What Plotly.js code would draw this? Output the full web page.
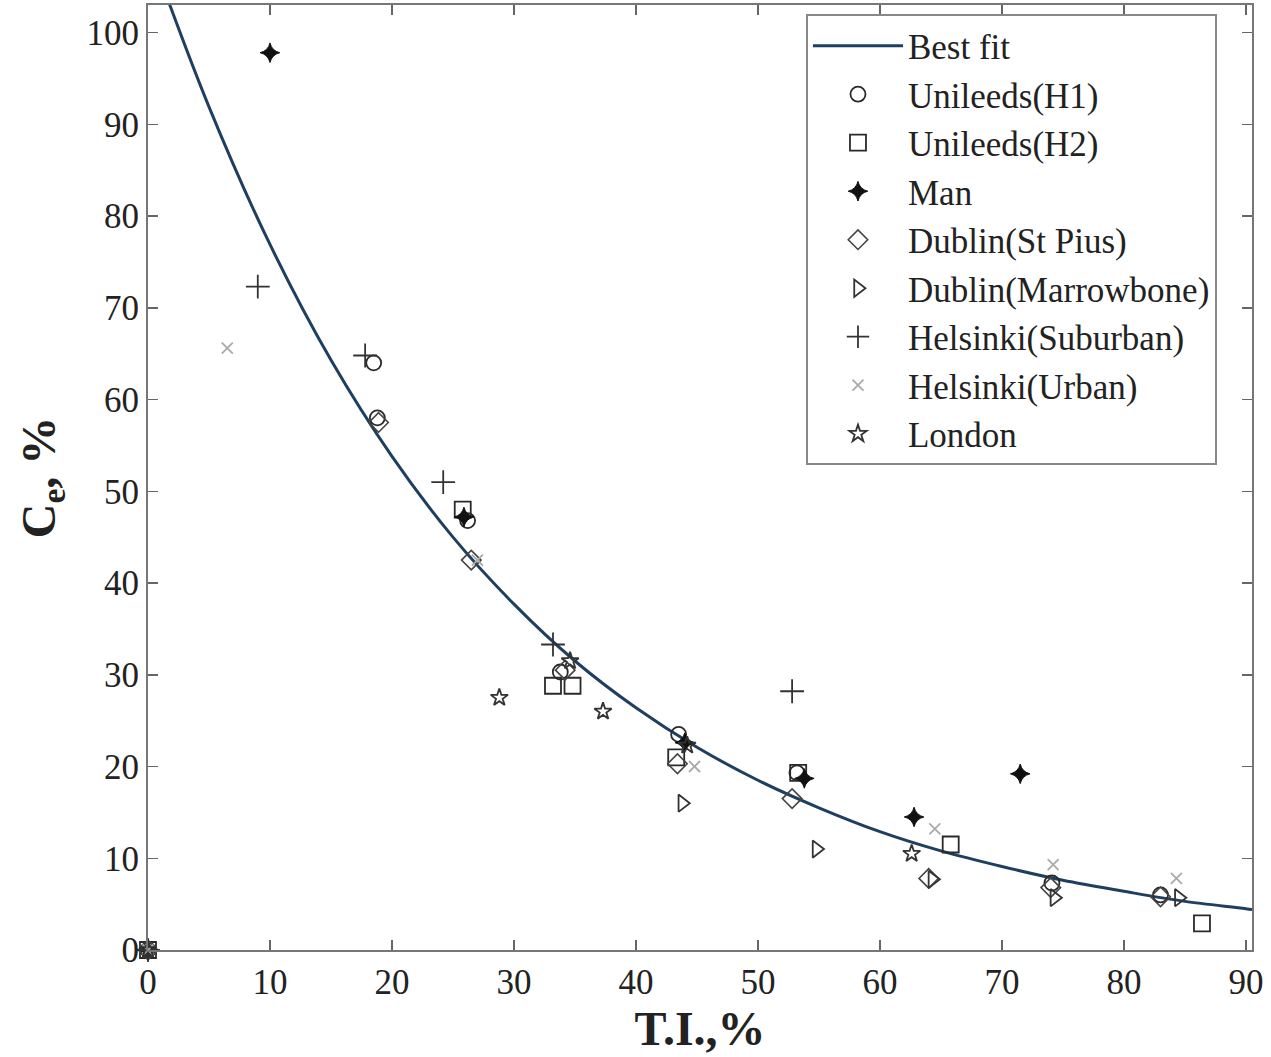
<!DOCTYPE html>
<html>
<head>
<meta charset="utf-8">
<script src="https://cdn.plot.ly/plotly-3.0.1.min.js"></script>
<style>html,body{margin:0;padding:0;background:#fff;}#chart{width:1271px;height:1057px;}</style>
</head>
<body>
<div id="chart"></div>
<script>
// Best fit curve
const fitX = [0, 5, 10, 15, 20, 25, 30, 35, 40, 45, 50, 55, 60, 65, 70, 75, 80, 85, 90, 91];
const fitY = [109.5, 91.9, 76.9, 64.3, 53.8, 45.0, 37.7, 31.5, 26.4, 22.1, 18.5, 15.5, 12.9, 10.8, 9.1, 7.6, 6.4, 5.3, 4.5, 4.3];

const h1X = [0, 18.5, 18.8, 26.2, 33.8, 43.5, 53.2, 74.1, 83.0];
const h1Y = [0, 64.0, 58.0, 46.8, 30.3, 23.5, 19.3, 7.3, 6.0];

const h2X = [0, 25.8, 33.2, 34.8, 43.3, 53.3, 65.8, 86.4];
const h2Y = [0, 48.0, 28.8, 28.8, 21.0, 19.3, 11.5, 2.9];

const manX = [0, 10.0, 25.9, 44.0, 53.8, 62.8, 71.5];
const manY = [0, 97.8, 47.2, 22.6, 18.7, 14.5, 19.2];

const piusX = [0, 18.9, 26.5, 34.2, 43.4, 52.8, 64.0, 74.0, 83.0];
const piusY = [0, 57.5, 42.5, 30.5, 20.3, 16.5, 7.8, 6.8, 5.8];

const marrowX = [0, 43.8, 54.8, 64.3, 74.3, 84.5];
const marrowY = [0, 16.0, 11.0, 7.7, 5.7, 5.7];

const subX = [0, 9.0, 17.8, 24.2, 33.2, 52.8];
const subY = [0, 72.3, 64.8, 51.0, 33.3, 28.2];

const urbX = [0, 6.5, 27.0, 44.8, 64.5, 74.2, 84.3];
const urbY = [0, 65.6, 42.5, 20.0, 13.2, 9.3, 7.8];

const lonX = [0, 28.8, 34.6, 37.3, 44.2, 62.6];
const lonY = [0, 27.5, 31.5, 26.0, 22.3, 10.5];

const names = ['Best fit','Unileeds(H1)','Unileeds(H2)','Man','Dublin(St Pius)','Dublin(Marrowbone)','Helsinki(Suburban)','Helsinki(Urban)','London'];

const dark = '#2a2a2a';
function pts(x, y, name, symbol, color, size, lw) {
  return {x: x, y: y, name: name, type: 'scatter', mode: 'markers', cliponaxis: false,
    marker: {symbol: symbol, size: size, color: color, line: {color: color, width: lw}}};
}

const traces = [
  {x: fitX, y: fitY, name: names[0], type: 'scatter', mode: 'lines',
   line: {color: '#1f3f60', width: 3, shape: 'spline'}},
  pts(h1X, h1Y, names[1], 'circle-open', dark, 15, 1.8),
  pts(h2X, h2Y, names[2], 'square-open', dark, 16, 1.8),
  pts(manX, manY, names[3], 'star-diamond', '#111', 14, 1),
  pts(piusX, piusY, names[4], 'diamond-open', '#444', 15, 1.6),
  pts(marrowX, marrowY, names[5], 'triangle-right-open', '#333', 15, 1.8),
  pts(subX, subY, names[6], 'cross-thin-open', '#333', 17, 1.8),
  pts(urbX, urbY, names[7], 'x-thin-open', '#aaaaaa', 11, 1.8),
  pts(lonX, lonY, names[8], 'star-open', '#333', 13, 1.8)
];

const font = 'Liberation Serif, Times New Roman, serif';
const layout = {
  width: 1271, height: 1057,
  margin: {l: 148, r: 19, t: 5, b: 107},
  paper_bgcolor: '#fff', plot_bgcolor: '#fff',
  showlegend: true,
  font: {family: font, color: '#222', size: 34},
  xaxis: {
    range: [0, 90.5], tickvals: [0,10,20,30,40,50,60,70,80,90],
    ticks: 'inside', ticklen: 10, tickcolor: '#666', tickwidth: 1.5,
    showline: true, linecolor: '#777', linewidth: 2, mirror: 'ticks',
    showgrid: false, zeroline: false,
    tickfont: {family: font, size: 35, color: '#222'},
    title: {text: '<b>T.I.,%</b>', font: {family: font, size: 48, color: '#222'}, standoff: 4}
  },
  yaxis: {
    range: [0, 103], tickvals: [0,10,20,30,40,50,60,70,80,90,100],
    ticks: 'inside', ticklen: 10, tickcolor: '#666', tickwidth: 1.5,
    showline: true, linecolor: '#777', linewidth: 2, mirror: 'ticks',
    showgrid: false, zeroline: false,
    tickfont: {family: font, size: 35, color: '#222'},
    title: {text: '<b>C<sub>e</sub>, %</b>', font: {family: font, size: 48, color: '#222'}, standoff: 16}
  },
  legend: {
    x: 0.596, y: 0.99, xanchor: 'left', yanchor: 'top',
    bgcolor: '#fff', bordercolor: '#888', borderwidth: 2,
    font: {family: font, size: 35, color: '#222'},
    itemwidth: 90, tracegroupgap: 0
  }
};

Plotly.newPlot('chart', traces, layout, {displayModeBar: false, staticPlot: true});
</script>
</body>
</html>
